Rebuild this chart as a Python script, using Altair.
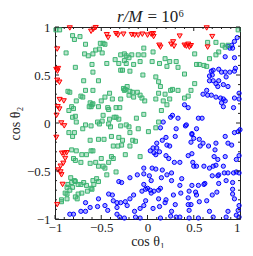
import altair as alt
import pandas as pd

# (cos theta1, cos theta2) pairs
red_pts = [(-0.84,0.99),(-0.61,0.955),(-0.585,0.976),(-0.56,0.993),(-0.44,0.92),(-0.426,0.89),
 (-0.34,0.93),(-0.32,0.915),(-0.26,0.925),(-0.17,0.92),(-0.14,0.915),(-0.10,0.915),(-0.056,0.925),
 (0.0,0.915),(0.04,0.925),(0.06,0.93),(0.066,0.90),(0.127,0.81),(0.14,0.79),(0.256,0.82),(0.277,0.845),
 (0.287,0.80),(0.348,0.905),(0.40,0.81),(0.42,0.80),(0.44,0.82),(0.453,0.79),(0.47,0.805),(0.64,0.99),
 (0.70,0.90),(0.65,0.79),
 (-0.976,0.77),(-0.986,0.557),(-0.973,0.54),(-0.966,0.567),(-0.976,0.445),(-0.952,0.425),(-0.95,0.244),
 (-0.905,0.23),(-0.97,0.17),(-0.952,0.145),(-0.983,0.08),(-0.932,0.0),(-0.90,-0.03),(-0.986,-0.15),
 (-0.925,-0.315),(-0.90,-0.315),(-0.874,-0.31),(-0.89,-0.37),(-0.91,-0.42),(-0.94,-0.45),(-0.966,-0.49),
 (-0.94,-0.51),(-0.93,-0.54),(-0.918,-0.64),(-0.976,-0.85)]

green_pts = [(-0.99,0.97),(-0.95,0.97),(-0.81,0.91),(-0.73,0.90),(-0.79,0.87),(-0.67,0.82),(-0.88,0.73),
 (-0.51,0.83),(-0.48,0.83),(-0.46,0.82),(-0.52,0.77),(-0.56,0.76),(-0.59,0.72),(-0.68,0.72),(-0.64,0.70),
 (-0.49,0.73),(-0.60,0.61),(-0.78,0.58),(-0.44,0.62),(-0.35,0.66),(-0.29,0.71),(-0.25,0.72),(-0.23,0.70),
 (-0.20,0.68),(-0.25,0.65),(-0.23,0.62),(-0.31,0.62),(-0.29,0.55),(-0.27,0.55),(-0.17,0.71),(-0.10,0.71),
 (-0.04,0.78),(0.06,0.74),(-0.04,0.71),(-0.08,0.64),(-0.15,0.61),(-0.19,0.54),(-0.05,0.50),(0.05,0.64),
 (0.13,0.62),(0.19,0.67),(0.24,0.64),(0.21,0.59),(0.31,0.64),(0.33,0.58),(0.53,0.61),(0.51,0.72),
 (0.56,0.61),(0.61,0.60),(0.64,0.59),(0.67,0.67),(0.74,0.71),(0.77,0.74),(0.81,0.81),(0.84,0.79),
 (0.87,0.81),(0.98,0.97),(0.74,0.84),(0.65,0.84),(-0.59,0.53),(-0.53,0.44),(-0.69,0.44),(-0.67,0.34),
 (-0.72,0.28),(-0.59,0.34),(-0.41,0.31),(-0.26,0.36),(-0.25,0.34),(-0.24,0.35),(-0.22,0.38),(-0.19,0.33),
 (-0.16,0.32),(-0.11,0.32),(-0.08,0.29),(-0.29,0.25),(-0.38,0.25),(-0.46,0.27),(-0.50,0.23),(-0.62,0.21),
 (-0.60,0.19),(-0.61,0.17),(-0.59,0.20),(-0.63,0.17),(-0.53,0.17),(-0.43,0.16),(-0.42,0.14),(-0.34,0.16),
 (-0.30,0.16),(-0.20,0.29),(-0.15,0.27),(-0.06,0.26),(-0.03,0.23),(0.09,0.25),(0.17,0.23),(0.21,0.19),
 (0.12,0.31),(0.19,0.30),(0.24,0.25),(0.25,0.34),(0.27,0.35),(0.33,0.34),(0.40,0.26),(0.44,0.28),
 (0.47,0.34),(0.51,0.41),(0.40,0.51),(0.14,0.38),(0.12,0.43),(0.09,0.48),(-0.86,0.33),(-0.84,0.32),
 (-0.70,0.27),(-0.77,0.23),(-0.82,0.17),(-0.80,0.15),(-0.85,0.13),(-0.78,0.07),(-0.81,0.06),(-0.77,0.01),
 (-0.67,-0.02),(-0.61,-0.03),(-0.54,0.01),(-0.52,-0.01),(-0.49,0.02),(-0.48,0.08),(-0.42,-0.01),
 (-0.41,0.04),(-0.40,-0.04),(-0.36,0.06),(-0.34,0.06),(-0.31,0.04),(-0.29,-0.03),(-0.23,-0.02),
 (-0.20,-0.04),(-0.19,-0.10),(-0.16,-0.18),(-0.13,-0.19),(-0.04,0.09),(0.15,0.13),(-0.12,0.05),
 (0.01,-0.09),(0.09,-0.05),(0.12,0.01),(-0.10,-0.06),(-0.08,-0.35),(-0.24,-0.33),
 (-0.85,-0.10),(-0.79,-0.10),(-0.81,-0.14),(-0.70,-0.06),(-0.62,-0.18),(-0.53,-0.17),(-0.47,-0.17),
 (-0.39,-0.14),(-0.31,-0.15),(-0.27,-0.18),(-0.32,-0.24),(-0.28,-0.23),(-0.37,-0.24),(-0.19,-0.24),
 (-0.61,-0.29),(-0.59,-0.29),(-0.66,-0.33),(-0.71,-0.33),(-0.77,-0.29),(-0.82,-0.28),(-0.80,-0.37),
 (-0.78,-0.39),(-0.72,-0.41),(-0.62,-0.42),(-0.56,-0.41),(-0.50,-0.37),(-0.48,-0.45),(-0.53,-0.45),
 (-0.39,-0.35),(-0.37,-0.37),(-0.42,-0.41),(-0.46,-0.47),(-0.34,-0.51),(-0.44,-0.54),(-0.83,-0.57),
 (-0.79,-0.60),(-0.78,-0.61),(-0.82,-0.62),(-0.75,-0.64),(-0.72,-0.64),(-0.69,-0.62),(-0.66,-0.65),
 (-0.59,-0.60),(-0.55,-0.58),(-0.53,-0.61),(-0.58,-0.64),(-0.61,-0.68),(-0.60,-0.69),(-0.65,-0.71),
 (-0.71,-0.73),(-0.75,-0.74),(-0.78,-0.77),(-0.76,-0.79),(-0.86,-0.64),(-0.87,-0.67),(-0.81,-0.67),
 (-0.84,-0.70),(-0.87,-0.74),(-0.87,-0.79),(-0.93,-0.82),(-0.93,-0.80),(-0.89,-0.73)]

blue_pts = [(0.97,0.89),(0.94,0.85),(0.91,0.81),(0.89,0.78),(0.92,0.78),(0.87,0.80),(0.84,0.69),(0.94,0.68),
 (0.69,0.54),(0.71,0.55),(0.77,0.56),(0.80,0.53),(0.84,0.53),(0.85,0.48),(0.89,0.53),(0.95,0.57),
 (0.94,0.54),(0.70,0.50),(0.67,0.49),(0.67,0.44),(0.71,0.44),(0.74,0.41),(0.76,0.38),(0.77,0.44),
 (0.82,0.40),(0.87,0.38),(0.64,0.34),(0.60,0.30),(0.65,0.29),(0.69,0.29),(0.74,0.27),(0.79,0.26),
 (0.82,0.25),(0.84,0.23),(0.80,0.21),(0.82,0.17),(0.93,0.16),(0.94,0.26),(0.99,0.25),(0.99,0.31),
 (0.40,0.19),(0.44,0.16),(0.27,0.08),(0.25,0.06),(0.17,0.01),(0.14,-0.05),(0.33,0.05),(0.55,0.05),
 (0.59,0.05),(0.53,-0.06),(0.42,-0.02),(0.41,-0.03),(0.31,-0.06),(0.30,-0.14),(0.20,-0.15),(0.16,-0.18),
 (0.21,-0.23),(0.24,-0.24),(0.10,-0.21),(0.10,-0.26),(0.06,-0.26),(0.07,-0.31),(0.03,-0.29),(0.09,-0.33),
 (0.13,-0.30),(0.20,-0.34),(0.23,-0.37),(0.29,-0.41),(0.35,-0.41),(0.44,-0.34),(0.48,-0.32),(0.47,-0.20),
 (0.48,-0.12),(0.48,-0.11),(0.50,-0.16),(0.56,-0.17),(0.57,-0.24),(0.60,-0.21),(0.66,-0.24),(0.73,-0.28),
 (0.74,-0.21),(0.72,-0.35),(0.76,-0.38),(0.84,-0.14),(0.87,-0.21),(0.91,-0.23),(0.94,-0.10),(0.98,-0.09),
 (1.00,-0.07),(0.99,-0.34),(0.96,-0.38),(0.84,-0.35),(0.82,-0.45),(0.74,-0.44),(0.71,-0.45),(0.67,-0.47),
 (0.61,-0.45),(0.53,-0.45),(0.49,-0.41),(0.50,-0.45),(0.70,-0.55),(0.76,-0.55),(0.77,-0.54),(0.83,-0.52),
 (0.87,-0.52),(0.93,-0.52),(0.96,-0.51),(0.99,-0.52),(0.85,-0.60),(0.92,-0.62),(0.92,-0.69),(0.92,-0.74),
 (0.94,-0.79),(0.99,-0.86),(0.98,-0.91),(0.77,-0.63),(0.75,-0.72),(0.70,-0.75),(0.62,-0.63),(0.61,-0.64),
 (0.52,-0.72),(0.53,-0.75),(0.45,-0.71),(0.44,-0.78),(0.36,-0.73),(0.37,-0.58),(0.35,-0.65),(0.28,-0.75),
 (0.30,-0.85),(0.44,-0.85),(0.45,-0.91),(0.56,-0.82),(0.64,-0.81),(0.55,-0.65),(0.48,-0.65),(0.26,-0.52),
 (0.26,-0.60),(0.16,-0.49),(0.21,-0.54),(0.15,-0.57),(0.09,-0.48),(0.05,-0.47),(-0.04,-0.47),(-0.04,-0.53),
 (-0.02,-0.69),(0.00,-0.68),(0.03,-0.70),(0.04,-0.73),(0.07,-0.71),(0.12,-0.70),(0.14,-0.68),(0.02,-0.55),
 (0.04,-0.60),(-0.04,-0.64),(-0.11,-0.54),(-0.19,-0.57),(-0.28,-0.62),(-0.31,-0.61),(-0.19,-0.79),
 (-0.15,-0.75),(-0.06,-0.71),(-0.14,-0.92),(-0.22,-0.86),(-0.24,-0.82),(-0.29,-0.83),(-0.33,-0.83),
 (-0.37,-0.81),(-0.42,-0.74),(-0.38,-0.75),(-0.33,-0.88),(-0.43,-0.91),(-0.46,-0.86),(-0.53,-0.79),
 (-0.54,-0.87),(-0.62,-0.88),(-0.67,-0.92),(-0.72,-0.92),(-0.80,-0.95),(-0.84,-0.95),(-0.67,-0.83),
 (0.26,-0.92),(0.25,-0.97),(0.13,-0.87),(0.06,-0.89),(0.14,-0.99),(0.20,-0.80),(0.19,-0.83),(-0.08,-0.89),
 (-0.02,-0.81),(-0.04,-0.86),(-0.30,-0.98),(-0.25,-0.99),(0.12,-0.79),(0.35,-0.98),(0.31,-0.98),
 (0.47,-0.85),(0.67,-0.92),(0.71,-0.98),(0.85,-0.98),(0.87,-0.92),(0.96,-0.96),(0.99,-0.98),(0.55,-0.99),
 (0.45,-0.99),(-0.08,-0.99),(-0.13,-0.98),(-0.33,-0.95)]

tick_major = [-1, -0.5, 0, 0.5, 1]
tick_minor = [-0.9, -0.8, -0.7, -0.6, -0.4, -0.3, -0.2, -0.1, 0.1, 0.2, 0.3, 0.4, 0.6, 0.7, 0.8, 0.9]
title_left = ["r/M"]
title_right = ["= 10⁶"]
x_title = "cos θ₁"
y_title = "cos θ₂"

FONT = "Liberation Serif"
INK = "#222222"

xscale = alt.Scale(domain=[-1, 1], nice=False, zero=False)
yscale = alt.Scale(domain=[-1, 1], nice=False, zero=False)

XAX = alt.Axis(values=tick_major, format="~g", ticks=False, domain=False, grid=False,
               labelFont=FONT, labelFontSize=13, labelColor=INK, labelPadding=2,
               labelAlign={"condition": {"test": "datum.value == 1", "value": "right"}, "value": "center"},
               title=x_title, titleFont=FONT, titleFontSize=14, titleFontWeight="normal",
               titleColor=INK, titlePadding=0)
YAX = alt.Axis(values=tick_major, format="~g", ticks=False, domain=False, grid=False,
               labelFont=FONT, labelFontSize=13, labelColor=INK, labelPadding=5,
               title=y_title, titleFont=FONT, titleFontSize=14, titleFontWeight="normal",
               titleColor=INK, titlePadding=4)

def pts(data, shape, color, size):
    df = pd.DataFrame(data, columns=["c1", "c2"])
    return alt.Chart(df).mark_point(shape=shape, filled=True, fill=color, fillOpacity=0.35,
                                    stroke=color, strokeWidth=1, strokeOpacity=1, size=size, opacity=1).encode(
        x=alt.X("c1:Q", scale=xscale, axis=XAX),
        y=alt.Y("c2:Q", scale=yscale, axis=YAX),
    )

def ex(s):
    return alt.value(alt.ExprRef(expr=s))

def ticks(vals, L):
    df = pd.DataFrame({"t": vals})
    base = alt.Chart(df).mark_rule(color=INK, strokeWidth=1)
    return [
        base.encode(x=alt.X("t:Q", scale=xscale, axis=XAX), y=alt.value("height"), y2=ex(f"height - {L}")),
        base.encode(x=alt.X("t:Q", scale=xscale, axis=XAX), y=alt.value(0), y2=alt.value(L)),
        base.encode(y=alt.Y("t:Q", scale=yscale, axis=YAX), x=alt.value(0), x2=alt.value(L)),
        base.encode(y=alt.Y("t:Q", scale=yscale, axis=YAX), x=alt.value("width"), x2=ex(f"width - {L}")),
    ]

t1 = alt.Chart(pd.DataFrame({"t": title_left})).mark_text(
    align="right", baseline="alphabetic", font=FONT, fontSize=17, fontStyle="italic", color=INK
).encode(x=ex("width / 2 - 5"), y=alt.value(-5), text="t:N")
t2 = alt.Chart(pd.DataFrame({"t": title_right})).mark_text(
    align="left", baseline="alphabetic", font=FONT, fontSize=17, color=INK
).encode(x=ex("width / 2"), y=alt.value(-5), text="t:N")

layers = [
    pts(blue_pts, "circle", "#0000ff", 18),
    pts(green_pts, "square", "#3cb371", 16),
    pts(red_pts, "triangle-down", "#ff0000", 26),
] + ticks(tick_major, 4) + ticks(tick_minor, 2) + [t1, t2]

chart = alt.layer(*layers).properties(
    width=237, height=240, padding={"left": 0, "right": 0, "top": 0, "bottom": 0},
    autosize=alt.AutoSizeParams(type="fit", contains="padding"),
).configure_view(stroke=INK, strokeWidth=1)

chart.save("out.html", embed_options={"renderer": "svg", "actions": False})
